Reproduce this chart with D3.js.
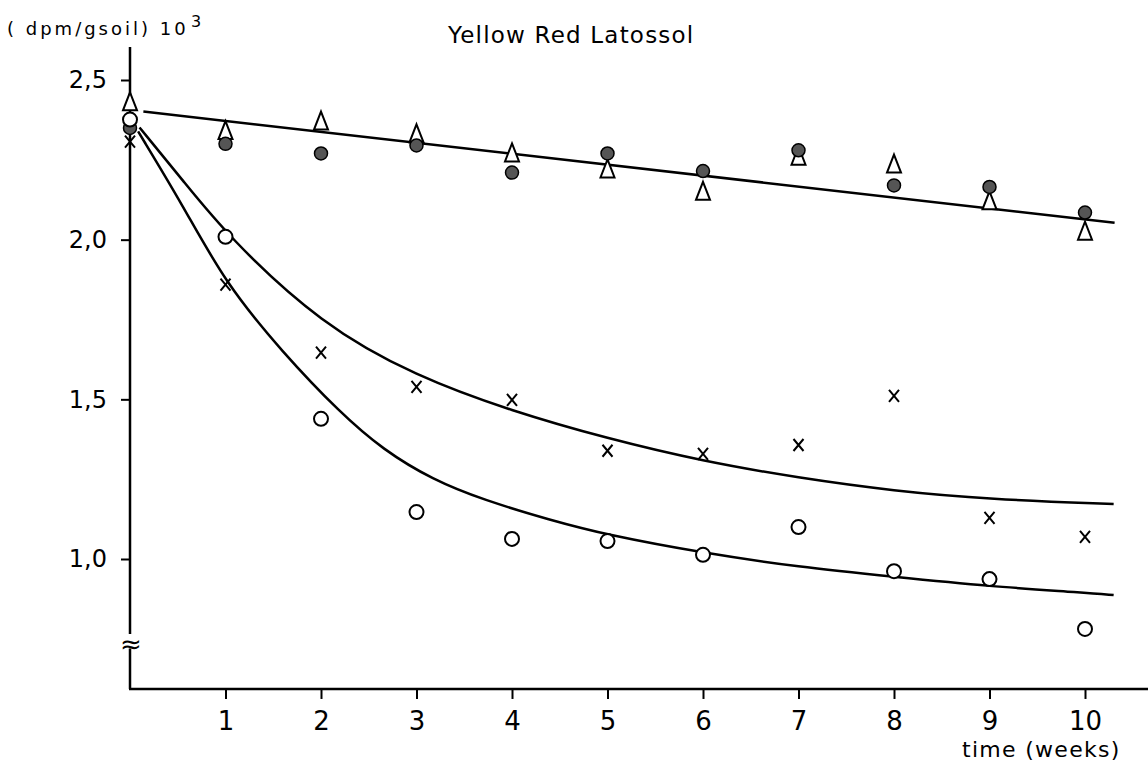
<!DOCTYPE html>
<html>
<head>
<meta charset="utf-8">
<script src="https://cdn.jsdelivr.net/npm/d3@7"></script>
<style>
body { margin: 0; background: #fff; }
text { font-family: "DejaVu Sans", sans-serif; fill: #000; }
</style>
</head>
<body>
<div id="chart"></div>
<script>
// measured values, week by week
var weeks = [0, 1, 2, 3, 4, 5, 6, 7, 8, 9, 10];
var triangleValues = [2.43, 2.34, 2.37, 2.33, 2.27, 2.22, 2.15, 2.26, 2.235, 2.12, 2.025];
var dotValues = [2.35, 2.30, 2.27, 2.295, 2.21, 2.27, 2.215, 2.28, 2.17, 2.165, 2.085];
var crossValues = [2.307, 1.859, 1.646, 1.539, 1.498, 1.339, 1.329, 1.357, 1.511, 1.129, 1.069];
var circleValues = [2.376, 2.009, 1.439, 1.147, 1.063, 1.056, 1.013, 1.10, 0.962, 0.937, 0.781];

// fitted lines
var topFitWeeks = [0.14, 10.31];
var topFitValues = [2.401, 2.053];
var upperFitWeeks = [0.1, 0.555, 1.03, 2, 3, 4, 5, 6, 7, 8, 9, 10.3];
var upperFitValues = [2.351, 2.185, 2.009, 1.735, 1.571, 1.463, 1.377, 1.306, 1.254, 1.213, 1.187, 1.172];
var lowerFitWeeks = [0.085, 0.555, 0.995, 1.6, 2.2, 2.65, 3.17, 3.7, 4.4, 5, 6, 7, 8, 9, 10, 10.3];
var lowerFitValues = [2.339, 2.107, 1.865, 1.646, 1.458, 1.342, 1.248, 1.185, 1.122, 1.075, 1.019, 0.975, 0.944, 0.914, 0.895, 0.887];

var xTicks = [1, 2, 3, 4, 5, 6, 7, 8, 9, 10];
var yTicks = [1.0, 1.5, 2.0, 2.5];

var svg = d3.select("#chart")
    .append("svg")
    .attr("width", 1148)
    .attr("height", 768);

svg.append("rect")
    .attr("width", 1148)
    .attr("height", 768)
    .attr("fill", "#fff");

var xScale = d3.scaleLinear()
    .domain([0, 10])
    .range([130, 1085]);

var yScale = d3.scaleLinear()
    .domain([1, 2.5])
    .range([559, 80]);

var axisFloor = 0.593;

// axis lines with a break near the bottom
svg.append("line")
    .attr("x1", xScale(0)).attr("x2", xScale(0))
    .attr("y1", yScale(2.603)).attr("y2", yScale(0.765))
    .attr("stroke", "#000").attr("stroke-width", 2.5);

svg.append("line")
    .attr("x1", xScale(0)).attr("x2", xScale(0))
    .attr("y1", yScale(0.72)).attr("y2", yScale(axisFloor))
    .attr("stroke", "#000").attr("stroke-width", 2.5);

svg.append("text")
    .attr("x", xScale(0) + 1)
    .attr("y", yScale(0.705))
    .attr("text-anchor", "middle")
    .style("font-size", "26px")
    .text("≈");

svg.append("line")
    .attr("x1", xScale(0) - 1).attr("x2", 1148)
    .attr("y1", yScale(axisFloor)).attr("y2", yScale(axisFloor))
    .attr("stroke", "#000").attr("stroke-width", 2.5);

var yAxis = d3.axisLeft(yScale)
    .tickValues(yTicks)
    .tickSize(9)
    .tickPadding(14)
    .tickFormat(function(d) { return d3.format(".1f")(d).replace(".", ","); });

var yAxisGroup = svg.append("g")
    .attr("transform", "translate(" + xScale(0) + ",0)")
    .call(yAxis);
yAxisGroup.select(".domain").remove();
yAxisGroup.selectAll("line").attr("stroke-width", 2);
yAxisGroup.selectAll("text")
    .style("font-size", "24px")
    .style("font-family", "DejaVu Sans")
    .attr("fill", "#000");

var xAxis = d3.axisBottom(xScale)
    .tickValues(xTicks)
    .tickSize(10)
    .tickPadding(13)
    .tickFormat(d3.format("d"));

var xAxisGroup = svg.append("g")
    .attr("transform", "translate(0," + yScale(axisFloor) + ")")
    .call(xAxis);
xAxisGroup.select(".domain").remove();
xAxisGroup.selectAll("line").attr("stroke-width", 2);
xAxisGroup.selectAll("text")
    .style("font-size", "26px")
    .style("font-family", "DejaVu Sans")
    .attr("fill", "#000");

// titles
svg.append("text")
    .attr("x", 448)
    .attr("y", 43)
    .style("font-size", "23px")
    .style("letter-spacing", "1.2px")
    .text("Yellow Red Latossol");

svg.append("text")
    .attr("x", 7)
    .attr("y", 35)
    .style("font-size", "18px")
    .style("letter-spacing", "3px")
    .text("( dpm/gsoil) 10");

svg.append("text")
    .attr("x", 191)
    .attr("y", 27)
    .style("font-size", "16px")
    .text("3");

svg.append("text")
    .attr("x", 962)
    .attr("y", 757)
    .style("font-size", "22px")
    .style("letter-spacing", "1.3px")
    .text("time (weeks)");

// fitted curves
var fitLine = d3.line()
    .x(function(d) { return xScale(d.week); })
    .y(function(d) { return yScale(d.value); })
    .curve(d3.curveBasis);

function pairUp(ws, vs) {
    return ws.map(function(w, i) { return { week: w, value: vs[i] }; });
}

[
    pairUp(topFitWeeks, topFitValues),
    pairUp(upperFitWeeks, upperFitValues),
    pairUp(lowerFitWeeks, lowerFitValues)
].forEach(function(curve) {
    svg.append("path")
        .attr("d", fitLine(curve))
        .attr("fill", "none")
        .attr("stroke", "#000")
        .attr("stroke-width", 2.5);
});

// markers
svg.selectAll(".cross")
    .data(pairUp(weeks, crossValues))
    .enter().append("path")
    .attr("class", "cross")
    .attr("transform", function(d) { return "translate(" + xScale(d.week) + "," + yScale(d.value) + ")"; })
    .attr("d", "M-5,-6L5,6M5,-6L-5,6")
    .attr("fill", "none")
    .attr("stroke", "#000")
    .attr("stroke-width", 2);

svg.selectAll(".triangle")
    .data(pairUp(weeks, triangleValues))
    .enter().append("path")
    .attr("class", "triangle")
    .attr("transform", function(d) { return "translate(" + xScale(d.week) + "," + yScale(d.value) + ")"; })
    .attr("d", "M0,-10L7,8L-7,8Z")
    .attr("fill", "#fff")
    .attr("stroke", "#000")
    .attr("stroke-width", 2);

svg.selectAll(".dot")
    .data(pairUp(weeks, dotValues))
    .enter().append("circle")
    .attr("class", "dot")
    .attr("cx", function(d) { return xScale(d.week); })
    .attr("cy", function(d) { return yScale(d.value); })
    .attr("r", 6.5)
    .attr("fill", "#555")
    .attr("stroke", "#000")
    .attr("stroke-width", 1.5);

svg.selectAll(".ring")
    .data(pairUp(weeks, circleValues))
    .enter().append("circle")
    .attr("class", "ring")
    .attr("cx", function(d) { return xScale(d.week); })
    .attr("cy", function(d) { return yScale(d.value); })
    .attr("r", 7)
    .attr("fill", "#fff")
    .attr("stroke", "#000")
    .attr("stroke-width", 2);
</script>
</body>
</html>
